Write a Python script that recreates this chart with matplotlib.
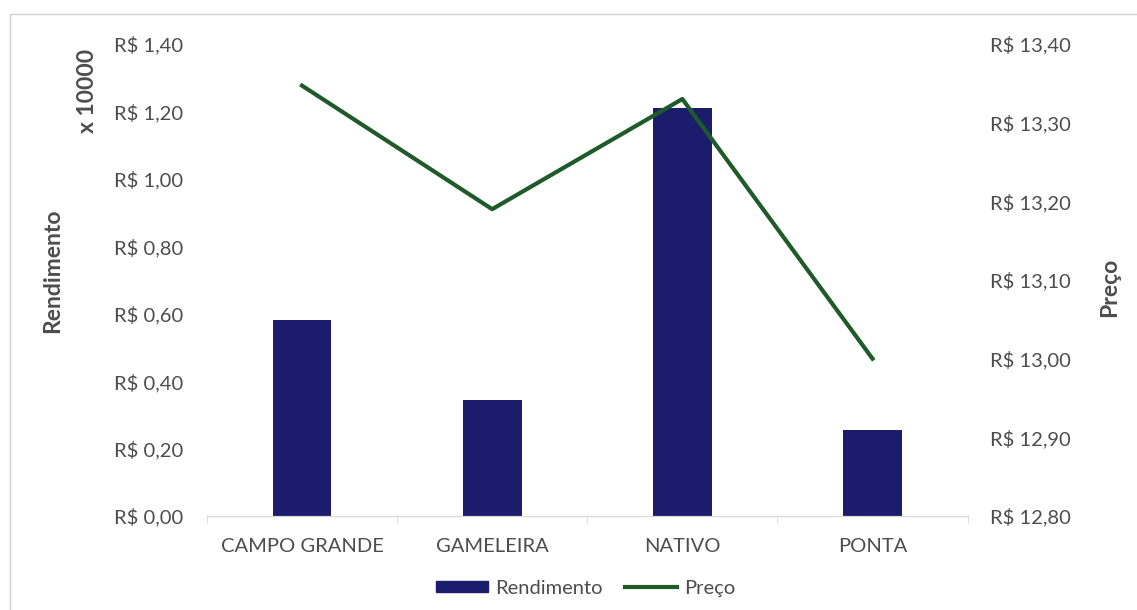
import matplotlib
matplotlib.use("Agg")
import matplotlib.pyplot as plt
from matplotlib.patches import Rectangle
from matplotlib.lines import Line2D
from matplotlib.ticker import FuncFormatter

plt.rcParams['font.family'] = ['Lato', 'DejaVu Sans']

# Data per local
locais = ["CAMPO GRANDE", "GAMELEIRA", "NATIVO", "PONTA"]
rendimento = [0.58, 0.343, 1.21, 0.256]     # x 10000
preco = [13.347, 13.19, 13.33, 13.00]

left_ticks = [0.0, 0.2, 0.4, 0.6, 0.8, 1.0, 1.2, 1.4]
right_ticks = [12.8, 12.9, 13.0, 13.1, 13.2, 13.3, 13.4]

bar_color = "#1c1c6c"
line_color = "#1f5a2a"
text_color = "#4d4d4d"
axis_color = "#d9d9d9"
tick_size = 14.5
label_size = 16.5


def brl(v, _pos=None):
    return "R$ " + f"{v:.2f}".replace(".", ",")


fig = plt.figure(figsize=(11.37, 6.10), dpi=100)
ax = fig.add_axes([0.182, 0.154, 0.669, 0.774])
ax2 = ax.twinx()

x = list(range(len(locais)))
ax.bar(x, rendimento, width=0.31, color=bar_color, zorder=2)
ax2.plot(x, preco, color=line_color, linewidth=3, zorder=3)

ax.set_xlim(-0.5, len(locais) - 0.5)
ax.set_ylim(0, 1.4)
ax2.set_ylim(12.8, 13.4)
ax.set_yticks(left_ticks)
ax2.set_yticks(right_ticks)
ax.yaxis.set_major_formatter(FuncFormatter(brl))
ax2.yaxis.set_major_formatter(FuncFormatter(brl))

ax.set_xticks(x)
ax.set_xticklabels(locais)
# small separators between categories on the baseline
ax.set_xticks([i + 0.5 for i in range(-1, len(locais))], minor=True)
ax.tick_params(axis="x", which="major", length=0, pad=16, labelsize=tick_size, colors=text_color)
ax.tick_params(axis="x", which="minor", length=5, color=axis_color, direction="out")
ax.tick_params(axis="y", length=0, pad=17, labelsize=tick_size, colors=text_color)
ax2.tick_params(axis="y", length=0, pad=16, labelsize=tick_size, colors=text_color)

for a in (ax, ax2):
    for s in ("top", "left", "right"):
        a.spines[s].set_visible(False)
    a.spines["bottom"].set_color(axis_color)

ax.set_ylabel("Rendimento", fontsize=label_size, fontweight="bold", color=text_color)
ax.yaxis.set_label_coords(-0.189, 0.52)
ax2.set_ylabel("Preço", fontsize=label_size, fontweight="bold", color=text_color)
ax2.yaxis.set_label_coords(1.173, 0.485)
fig.text(0.077, 0.851, "x 10000", rotation=90, ha="center", va="center",
         fontsize=label_size, fontweight="bold", color=text_color)

handles = [
    Rectangle((0, 0), 1, 1, color=bar_color),
    Line2D([0], [0], color=line_color, linewidth=3),
]
fig.legend(handles, ["Rendimento", "Preço"], loc="center", bbox_to_anchor=(0.515, 0.036),
           ncol=2, frameon=False, fontsize=tick_size, labelcolor=text_color,
           handlelength=2.6, handleheight=0.5, handletextpad=0.35, columnspacing=1.1)

# chart border
fig.patches.append(Rectangle((0.009, -0.01), 1.0, 0.987, transform=fig.transFigure,
                             fill=False, edgecolor="#d0d0d0", linewidth=1))

fig.savefig("out.png", dpi=100)
